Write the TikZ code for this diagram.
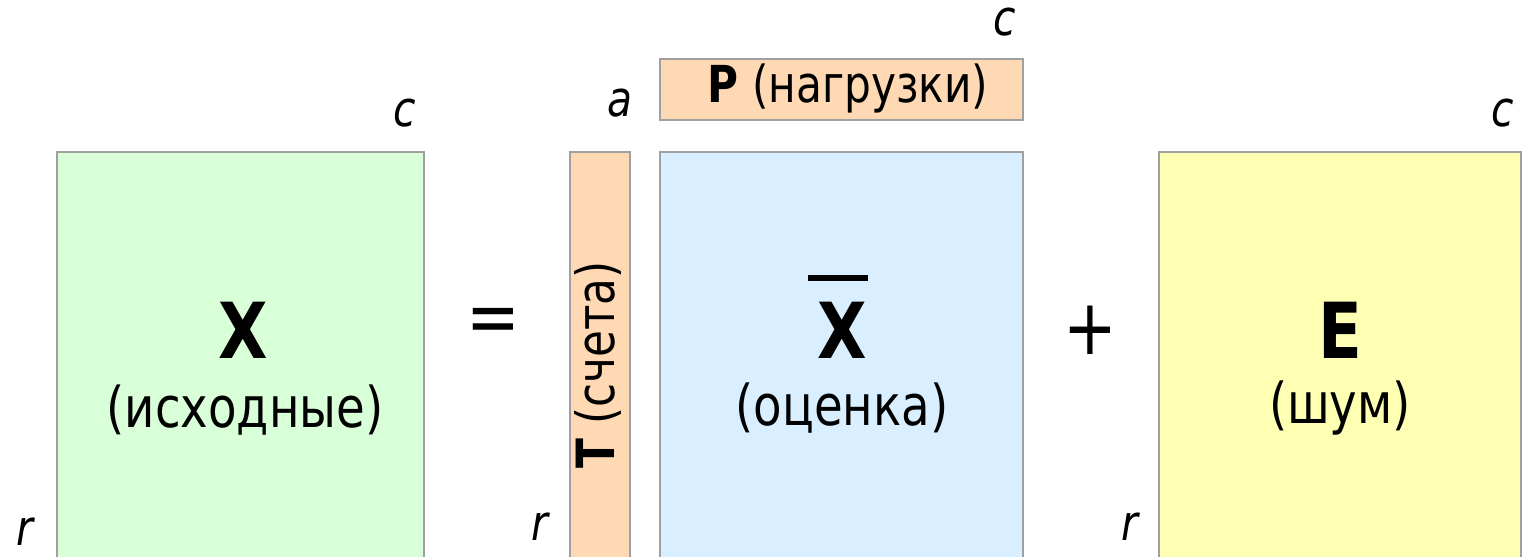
\documentclass[tikz,border=0pt]{standalone}
\usepackage{fontspec}
\setmainfont{DejaVu Sans}[FakeStretch=0.83]
\usepackage{xcolor}
\usetikzlibrary{positioning}
\definecolor{datagreen}{RGB}{217, 255, 217}
\definecolor{loadpeach}{RGB}{255, 217, 179}
\definecolor{fitblue}{RGB}{217, 239, 255}
\definecolor{noiseyellow}{RGB}{255, 255, 179}
\definecolor{edgegray}{RGB}{160, 160, 160}

\begin{document}
\begin{tikzpicture}[
    x=0.02cm, y=-0.02cm,
    every node/.style={inner sep=0pt, outer sep=0pt},
    matbox/.style={rectangle, draw=edgegray, line width=1.1pt, anchor=north west},
    bigletter/.style={font=\fontsize{44}{50}\selectfont\bfseries},
    caption/.style={font=\fontsize{32}{38}\selectfont},
    small/.style={font=\fontsize{29}{34}\selectfont},
    dimlabel/.style={font=\fontsize{28}{32}\selectfont\itshape},
    sign/.style={font=\fontsize{44}{50}\selectfont}
]
\clip (0,0) rectangle (1522,556);
% matrices
\node[matbox, fill=datagreen, minimum width=7.34cm, minimum height=8.6cm] (xbox) at (57,152) {};
\node[matbox, fill=loadpeach, minimum width=1.2cm, minimum height=8.6cm] (tbox) at (570,152) {};
\node[matbox, fill=loadpeach, minimum width=7.26cm, minimum height=1.22cm] (pbox) at (660,59) {};
\node[matbox, fill=fitblue, minimum width=7.26cm, minimum height=8.6cm] (xbarbox) at (660,152) {};
\node[matbox, fill=noiseyellow, minimum width=7.24cm, minimum height=8.6cm] (ebox) at (1159,152) {};
% texts
\node[bigletter] (xname) at (243,330) {X};
\node[caption] (xcap) at (245,410) {(исходные)};
\node[bigletter] (xbarname) at (842,330) {X};
\draw[line width=3.2pt] (808,278) -- (868,278);
\node[caption] (xbarcap) at (842,408) {(оценка)};
\node[bigletter] (ename) at (1340,330) {E};
\node[caption] (ecap) at (1340,408) {(шум)};
\node[small, font=\fontsize{30}{34}\selectfont, rotate=90] (tname) at (598,365) {\textbf{T} (счета)};
\node[small] (pname) at (848,88) {\textbf{P} (нагрузки)};
\node[sign] (eq) at (493,326) {=};
\node[sign] (plus) at (1090,330) {+};
% dimensions
\node[dimlabel] (xc) at (405,113) {c};
\node[dimlabel] (xr) at (25,532) {r};
\node[dimlabel] (pa) at (620,103) {a};
\node[dimlabel] (pc) at (1005,22) {c};
\node[dimlabel] (tr) at (540,527) {r};
\node[dimlabel] (ec) at (1503,113) {c};
\node[dimlabel] (er) at (1130,527) {r};
\end{tikzpicture}
\end{document}
